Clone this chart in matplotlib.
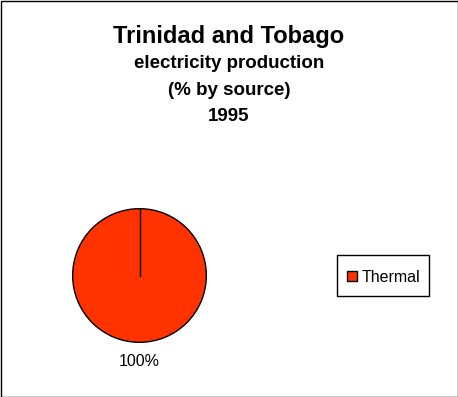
import matplotlib
matplotlib.use("Agg")
import matplotlib.pyplot as plt
from matplotlib.patches import Rectangle

labels = ["Thermal"]
values = [100]
colors = ["#FF3300"]
title_lines = ["Trinidad and Tobago", "electricity production", "(% by source)", "1995"]

W, H = 458, 397
fig = plt.figure(figsize=(W / 100, H / 100), dpi=100)
fig.patch.set_facecolor("white")

font = ["Liberation Sans", "DejaVu Sans"]

# title
fig.text(229 / W, 1 - 43 / H, title_lines[0], ha="center", va="baseline",
         fontsize=17, fontweight="bold", family=font)
for line, yb in zip(title_lines[1:], [68, 95, 121]):
    fig.text(229 / W, 1 - yb / H, line, ha="center", va="baseline",
             fontsize=13.5, fontweight="bold", family=font)

# pie
cx, cy, r = 139.5, 275.5, 67.5
ax = fig.add_axes([(cx - r) / W, (H - cy - r) / H, 2 * r / W, 2 * r / H])
wedges, texts, autotexts = ax.pie(values, colors=colors, startangle=90, counterclock=False,
                                  autopct="%1.0f%%", pctdistance=1.28, radius=1,
                                  wedgeprops=dict(edgecolor="black", linewidth=1))
ax.plot([0, 0], [0, 1], color="black", linewidth=1)
for t in autotexts:
    t.set_fontsize(11.5)
    t.set_family(font)
ax.set_xlim(-1.01, 1.01)
ax.set_ylim(-1.01, 1.01)
ax.set_aspect("equal")
ax.axis("off")

# legend (content without frame, frame drawn as box)
leg = fig.legend(wedges, labels, loc="center left", bbox_to_anchor=(347 / W, 1 - 277 / H),
                 borderaxespad=0, frameon=False, prop=dict(family=font, size=11.5),
                 handlelength=0.62, handleheight=0.62, handletextpad=0.31, borderpad=0)
fig.patches.append(Rectangle((336.5 / W, 1 - 295.5 / H), 92 / W, 41 / H, transform=fig.transFigure,
                             fill=False, edgecolor="black", linewidth=1))

# outer border
fig.patches.append(Rectangle((0.5 / W, 0.5 / H), 1 - 1 / W, 1 - 1 / H, transform=fig.transFigure,
                             fill=False, edgecolor="black", linewidth=1))

fig.savefig("out.png", dpi=100)
